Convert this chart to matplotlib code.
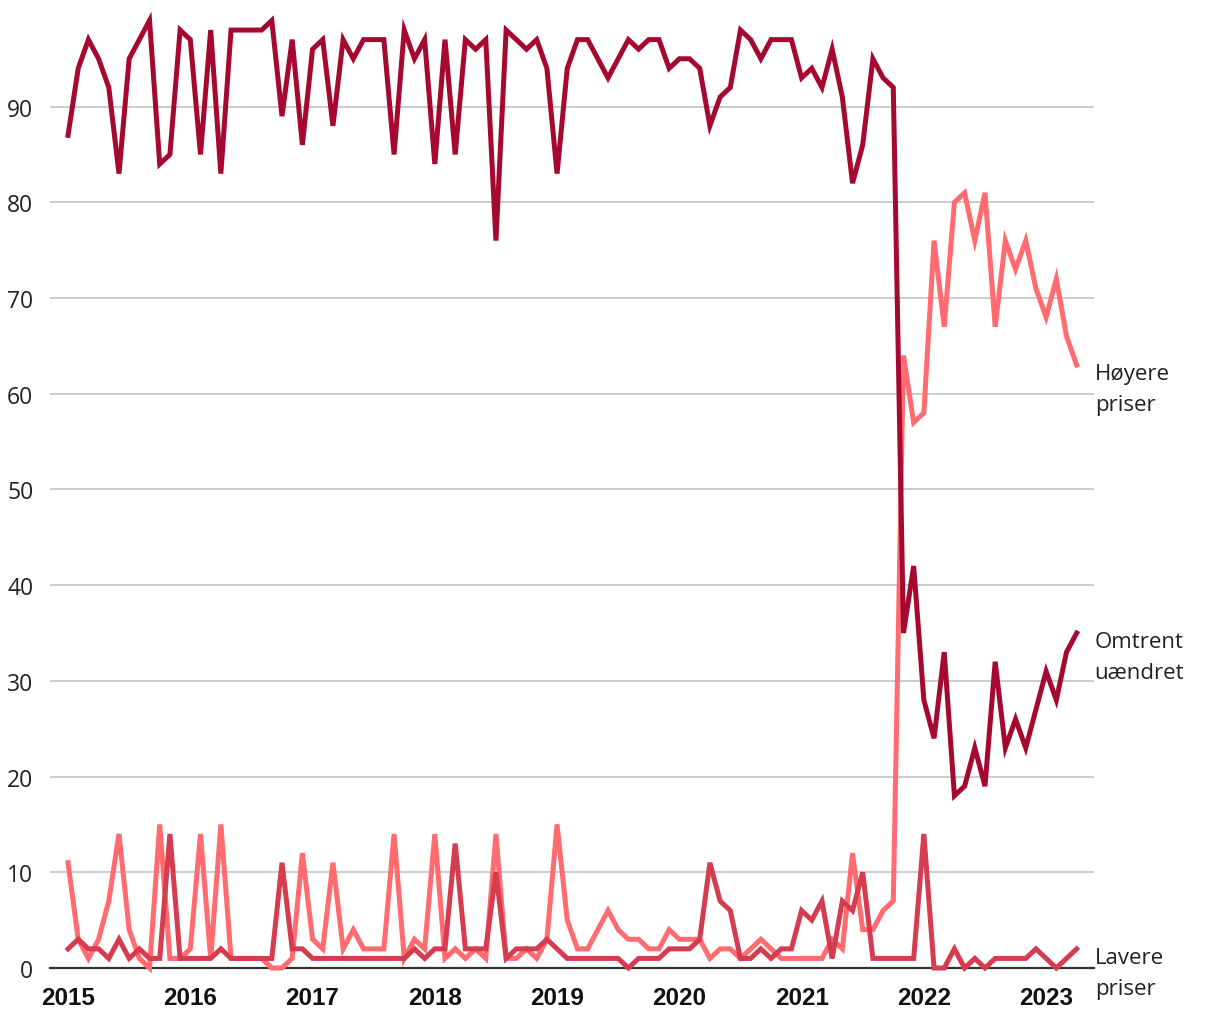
import numpy as np
import matplotlib
matplotlib.use('Agg')
import matplotlib.pyplot as plt


# monthly survey, Jan 2015 - Apr 2023 (share of firms, %)
hoyere = [11, 3, 1, 3, 7, 14, 4, 1, 0, 15, 1, 1,
          2, 14, 1, 15, 1, 1, 1, 1, 0, 0, 1, 12,
          3, 2, 11, 2, 4, 2, 2, 2, 14, 1, 3, 2,
          14, 1, 2, 1, 2, 1, 14, 1, 1, 2, 1, 3,
          15, 5, 2, 2, 4, 6, 4, 3, 3, 2, 2, 4,
          3, 3, 3, 1, 2, 2, 1, 2, 3, 2, 1, 1,
          1, 1, 1, 3, 2, 12, 4, 4, 6, 7, 64, 57,
          58, 76, 67, 80, 81, 76, 81, 67, 76, 73, 76, 71,
          68, 72, 66, 63]
omtrent = [87, 94, 97, 95, 92, 83, 95, 97, 99, 84, 85, 98,
           97, 85, 98, 83, 98, 98, 98, 98, 99, 89, 97, 86,
           96, 97, 88, 97, 95, 97, 97, 97, 85, 98, 95, 97,
           84, 97, 85, 97, 96, 97, 76, 98, 97, 96, 97, 94,
           83, 94, 97, 97, 95, 93, 95, 97, 96, 97, 97, 94,
           95, 95, 94, 88, 91, 92, 98, 97, 95, 97, 97, 97,
           93, 94, 92, 96, 91, 82, 86, 95, 93, 92, 35, 42,
           28, 24, 33, 18, 19, 23, 19, 32, 23, 26, 23, 27,
           31, 28, 33, 35]
lavere = [2, 3, 2, 2, 1, 3, 1, 2, 1, 1, 14, 1,
          1, 1, 1, 2, 1, 1, 1, 1, 1, 11, 2, 2,
          1, 1, 1, 1, 1, 1, 1, 1, 1, 1, 2, 1,
          2, 2, 13, 2, 2, 2, 10, 1, 2, 2, 2, 3,
          2, 1, 1, 1, 1, 1, 1, 0, 1, 1, 1, 2,
          2, 2, 3, 11, 7, 6, 1, 1, 2, 1, 2, 2,
          6, 5, 7, 1, 7, 6, 10, 1, 1, 1, 1, 1,
          14, 0, 0, 2, 0, 1, 0, 1, 1, 1, 1, 2,
          1, 0, 1, 2]
years = ['2015', '2016', '2017', '2018', '2019', '2020', '2021', '2022', '2023']
labels = ['Høyere\npriser', 'Omtrent\nuændret', 'Lavere\npriser']

c_hoy = '#ff6b6e'
c_omt = '#a6092f'
c_lav = '#d63c4f'

x = np.arange(len(omtrent))

fig = plt.figure(figsize=(12.2, 10.2), dpi=100)
ax = fig.add_axes([50 / 1220, 1 - 969 / 1020, 1044 / 1220, 959 / 1020])

ax.plot(x, hoyere, color=c_hoy, lw=3.6, solid_joinstyle='miter', clip_on=False, zorder=3)
ax.plot(x, omtrent, color=c_omt, lw=3.6, solid_joinstyle='miter', clip_on=False, zorder=4)
ax.plot(x, lavere, color=c_lav, lw=3.6, solid_joinstyle='miter', clip_on=False, zorder=5)

ax.set_xlim(-1.77, 100.7)
ax.set_ylim(0, 100.2)

ax.set_yticks(range(0, 100, 10))
ax.set_yticklabels([str(v) for v in range(0, 100, 10)], fontfamily='Open Sans',
                   fontsize=16.5, color='#222222')
ax.set_xticks(np.arange(len(years)) * 12)
ax.set_xticklabels(years, fontfamily='Liberation Sans', fontweight='bold',
                   fontsize=17.5, color='#111111')
ax.tick_params(axis='y', length=0, pad=12)
ax.tick_params(axis='x', length=0, pad=13)

ax.grid(axis='y', color='#c4c4c4', lw=1.2)
ax.set_axisbelow(True)
for s in ['top', 'right', 'left']:
    ax.spines[s].set_visible(False)
ax.spines['bottom'].set_color('#333333')
ax.spines['bottom'].set_linewidth(1.6)
ax.spines['bottom'].set_zorder(2)

ends = [hoyere[-1], omtrent[-1], lavere[-1]]
for lab, yv in zip(labels, ends):
    ax.annotate(lab, xy=(x[-1], yv), xytext=(18, -24), textcoords='offset pixels',
                ha='left', va='center', fontfamily='Open Sans', fontsize=16,
                color='#222222', linespacing=1.65, annotation_clip=False)

fig.savefig('out.png', dpi=100)
